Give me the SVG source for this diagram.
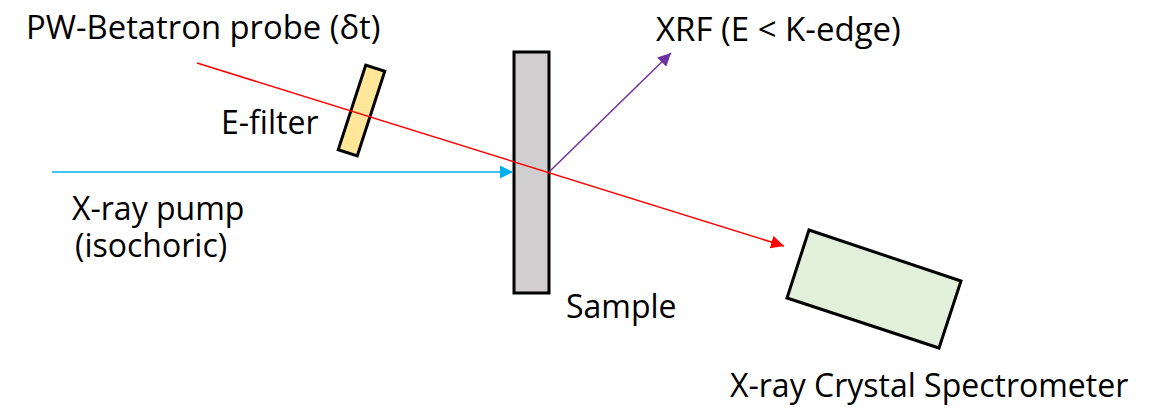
<svg xmlns="http://www.w3.org/2000/svg" width="1158" height="408" viewBox="0 0 1158 408">
<style>
text{font-family:"Open Sans","Liberation Sans",sans-serif;font-size:32px;fill:#000}
.box{stroke:#000;stroke-width:3}
</style>
<defs>
<marker id="ar" viewBox="0 0 10 10" refX="10" refY="5" markerWidth="13" markerHeight="13" markerUnits="userSpaceOnUse" orient="auto"><path d="M0,0L10,5L0,10z" fill="#ff0000"/></marker>
<marker id="ab" viewBox="0 0 10 10" refX="10" refY="5" markerWidth="13" markerHeight="13" markerUnits="userSpaceOnUse" orient="auto"><path d="M0,0L10,5L0,10z" fill="#00b0f0"/></marker>
<marker id="ap" viewBox="0 0 10 10" refX="10" refY="5" markerWidth="13" markerHeight="13" markerUnits="userSpaceOnUse" orient="auto"><path d="M0,0L10,5L0,10z" fill="#7030a0"/></marker>
</defs>
<rect width="1158" height="408" fill="#fff"/>
<g id="sample"><rect class="box" x="514" y="52" width="35" height="241" fill="#d0cece"/><text x="566" y="318">Sample</text></g>
<g id="filter"><rect class="box" x="351.5" y="66" width="20" height="89" fill="#ffe699" transform="rotate(18 361.5 110.5)"/><text x="221" y="134">E-filter</text></g>
<g id="spectrometer"><polygon class="box" points="809,230 961,281 939,348 787,298" fill="#e2efda"/><text x="730" y="397">X-ray Crystal Spectrometer</text></g>
<g id="probe"><text x="26" y="39" style="font-size:32.8px">PW-Betatron probe (δt)</text></g>
<g id="pump"><text x="72" y="220">X-ray pump</text><text x="75" y="257">(isochoric)</text></g>
<g id="xrf"><text x="656" y="41" style="font-size:33px">XRF (E &lt; K-edge)</text></g>
<g id="connectors" fill="none" stroke-width="1.5">
<line x1="52" y1="172" x2="513" y2="172" stroke="#00b0f0" marker-end="url(#ab)"/>
<line x1="549" y1="172" x2="671" y2="53" stroke="#7030a0" marker-end="url(#ap)"/>
<line x1="197" y1="63" x2="784" y2="246" stroke="#ff0000" marker-end="url(#ar)"/>
</g>
</svg>
